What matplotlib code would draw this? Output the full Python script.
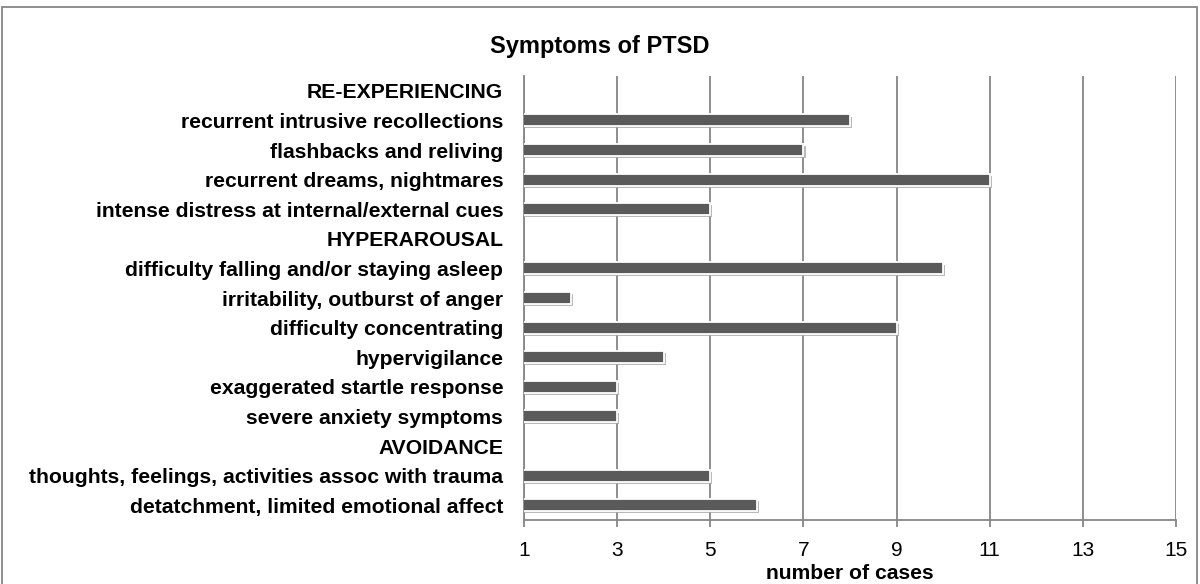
import matplotlib
matplotlib.use("Agg")
import matplotlib.pyplot as plt
import matplotlib.patheffects as pe
from matplotlib.patches import Rectangle
import numpy as np

plt.rcParams['font.family'] = ['Liberation Sans', 'DejaVu Sans']

categories = [
    "RE-EXPERIENCING",
    "recurrent intrusive recollections",
    "flashbacks and reliving",
    "recurrent dreams, nightmares",
    "intense distress at internal/external cues",
    "HYPERAROUSAL",
    "difficulty falling and/or staying asleep",
    "irritability, outburst of anger",
    "difficulty concentrating",
    "hypervigilance",
    "exaggerated startle response",
    "severe anxiety symptoms",
    "AVOIDANCE",
    "thoughts, feelings, activities assoc with trauma",
    "detatchment, limited emotional affect",
]
values = [None, 8, 7, 11, 5, None, 10, 2, 9, 4, 3, 3, None, 5, 6]
xticks = [1, 3, 5, 7, 9, 11, 13, 15]

fig = plt.figure(figsize=(12, 5.84), dpi=100)
ax = fig.add_axes([524/1200, 1 - 520/584, (1176-524)/1200, (520-76)/584])

y = np.arange(len(categories))
vals = np.array([np.nan if v is None else v for v in values], dtype=float)
mask = ~np.isnan(vals)
bars = ax.barh(y[mask], vals[mask], left=0, height=0.4, color='#5a5a5a',
               edgecolor='white', linewidth=1.3, zorder=3)
for b in bars:
    b.set_path_effects([pe.SimplePatchShadow(offset=(1.5, -1.5), shadow_rgbFace='#a8a8a8', alpha=0.8),
                        pe.Normal()])

ax.set_xlim(1, 15)
ax.set_ylim(len(categories) - 0.5, -0.5)
ax.set_xticks(xticks)
ax.set_xticklabels([str(t) for t in xticks], fontsize=15)
ax.set_yticks(y)
ax.set_yticklabels(categories, fontsize=15.2, fontweight='bold')
ax.tick_params(axis='y', length=0, pad=15)
ax.tick_params(axis='x', length=5, color='#868686', width=1.3, pad=10)
ax.grid(axis='x', color='#868686', linewidth=1.3, zorder=0)
ax.set_axisbelow(True)
for s in ['top', 'right']:
    ax.spines[s].set_visible(False)
for s in ['left', 'bottom']:
    ax.spines[s].set_color('#868686')
    ax.spines[s].set_linewidth(1.3)

ax.set_xlabel("number of cases", fontsize=15.2, fontweight='bold', labelpad=3)
fig.text(0.5, 1 - 46/584, "Symptoms of PTSD", ha='center', va='center',
         fontsize=17, fontweight='bold')

fig.patches.append(Rectangle((2/1200, -10/584), 1195/1200, 587/584, transform=fig.transFigure,
                             fill=False, edgecolor='#868686', linewidth=1.3, clip_on=False))

fig.savefig("out.png", dpi=100)
